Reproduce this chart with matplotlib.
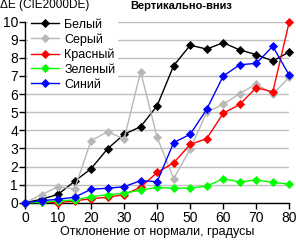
import matplotlib
matplotlib.use("Agg")
import matplotlib.pyplot as plt

plt.rcParams['font.family'] = ['Liberation Sans', 'DejaVu Sans']

angles = [0, 5, 10, 15, 20, 25, 30, 35, 40, 45, 50, 55, 60, 65, 70, 75, 80]

white = [0, 0.19, 0.46, 1.18, 1.88, 2.98, 3.78, 4.2, 5.36, 7.57, 8.7, 8.49, 8.84, 8.44, 8.18, 7.83, 8.33]
gray = [0, 0.44, 0.88, 0.76, 3.43, 3.92, 3.52, 7.24, 3.61, 1.33, 2.96, 5.0, 5.43, 6.03, 6.56, 6.0, 6.93]
red = [0, 0.05, 0.0, 0.1, 0.22, 0.3, 0.45, 0.85, 1.67, 2.2, 3.22, 3.54, 4.94, 5.43, 6.36, 6.12, 10.0]
green = [0, 0.02, 0.1, 0.15, 0.33, 0.44, 0.52, 0.7, 0.84, 0.8, 0.8, 0.92, 1.32, 1.15, 1.26, 1.12, 1.03]
blue = [0, 0.11, 0.19, 0.3, 0.74, 0.8, 0.88, 1.22, 1.16, 3.32, 3.78, 5.16, 7.0, 7.62, 7.7, 8.64, 7.04]

series = [
    ("Белый", white, "#000000"),
    ("Серый", gray, "#b8b8b8"),
    ("Красный", red, "#ff0000"),
    ("Зеленый", green, "#00ff00"),
    ("Синий", blue, "#0000ff"),
]

W, H = 296, 244
fig = plt.figure(figsize=(W / 100, H / 100), dpi=100)
ax = fig.add_axes([25 / W, 1 - 202.7 / H, (289.3 - 25) / W, (202.7 - 21.7) / H])

for name, vals, col in series:
    ax.plot(angles, vals, color=col, lw=1, marker="D", ms=3.8,
            markeredgewidth=0.6, label=name, clip_on=False, zorder=3)

ax.set_xlim(0, 80)
ax.set_ylim(0, 10)
ax.set_xticks(range(0, 81, 10))
ax.set_yticks(range(0, 11))
ax.yaxis.grid(True, color="#c0c0c0", lw=1)
ax.set_axisbelow(True)
for s in ["top", "right"]:
    ax.spines[s].set_visible(False)
ax.spines["left"].set_linewidth(1)
ax.spines["bottom"].set_linewidth(1)
ax.tick_params(axis="both", direction="out", length=4, width=1, labelsize=10, pad=2)
ax.tick_params(axis="y", pad=1)

ax.set_xlabel("Отклонение от нормали, градусы", fontsize=9, labelpad=1)
fig.text(0.0, 1 - 5 / H, "ΔE (CIE2000DE)", fontsize=8.5, ha="left", va="center")
fig.text(181 / W, 1 - 6 / H, "Вертикально-вниз", fontsize=8, fontweight="bold",
         ha="center", va="center")

leg = ax.legend(loc="upper left", bbox_to_anchor=(28 / W, 1 - 16 / H),
                bbox_transform=fig.transFigure, fontsize=9, frameon=True,
                framealpha=1, edgecolor="none", facecolor="white",
                handlelength=2.3, handletextpad=0.4, labelspacing=0.22,
                borderpad=0.2, borderaxespad=0, numpoints=1)

fig.savefig("out.png", dpi=100)
